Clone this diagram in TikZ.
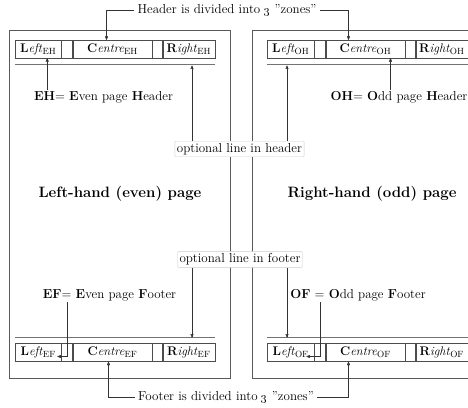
\documentclass[tikz,border=0pt]{standalone}
\usepackage{tikz}
\usetikzlibrary{
  arrows,
  positioning
}

\begin{document}
\begin{tikzpicture}[x=1pt,y=-1pt,
      zone/.style={
         rectangle,
         draw=black!70,
         inner sep=0pt,
         minimum height=18pt,
         font=\fontsize{12.5}{14}\selectfont
      },
      pageframe/.style={draw=black!65},
      optline/.style={draw=black!55, line width=1.3pt},
      note/.style={font=\fontsize{13}{15}\selectfont, inner sep=1pt},
      optbox/.style={
         rectangle,
         draw=black!20,
         rounded corners=1pt,
         fill=white,
         inner sep=2pt,
         font=\fontsize{13}{15}\selectfont
      },
      pagetitle/.style={font=\fontsize{15}{17}\selectfont\bfseries},
      >=stealth',tip/.style={->,draw=black!80},
      point/.style={coordinate}
    ]
    \useasboundingbox (0,0) rectangle (468,407);

    % the two pages
    \node (evenpage) [pageframe, rectangle, inner sep=0pt, minimum width=221pt,
       minimum height=348pt, anchor=north west] at (9,30) {};
    \draw[pageframe] (468,30) -| (252,378) -- (468,378);

    % header zones, even page
    \node (lehL) [zone, minimum width=46pt, anchor=west] at (15,49) {\textbf{L}\textit{eft}$_{\mathrm{EH}}$};
    \node (lehG) [zone, minimum width=11pt, right=0pt of lehL] {};
    \node (lehC) [zone, minimum width=79pt, right=0pt of lehG] {\textbf{C}\textit{entre}$_{\mathrm{EH}}$};
    \node (lehH) [zone, minimum width=10pt, right=0pt of lehC] {};
    \node (lehR) [zone, minimum width=52pt, right=0pt of lehH] {\textbf{R}\textit{ight}$_{\mathrm{EH}}$};
    % header zones, odd page
    \node (ohL) [zone, minimum width=47pt, anchor=west] at (267,49) {\textbf{L}\textit{eft}$_{\mathrm{OH}}$};
    \node (ohG) [zone, minimum width=11pt, right=0pt of ohL] {};
    \node (ohC) [zone, minimum width=79pt, right=0pt of ohG] {\textbf{C}\textit{entre}$_{\mathrm{OH}}$};
    \node (ohH) [zone, minimum width=10pt, right=0pt of ohC] {};
    \node (ohR) [zone, minimum width=52pt, right=0pt of ohH] {\textbf{R}\textit{ight}$_{\mathrm{OH}}$};
    % footer zones, even page
    \node (lefL) [zone, minimum width=46pt, anchor=west] at (15,352.5) {\textbf{L}\textit{eft}$_{\mathrm{EF}}$};
    \node (lefG) [zone, minimum width=11pt, right=0pt of lefL] {};
    \node (lefC) [zone, minimum width=79pt, right=0pt of lefG] {\textbf{C}\textit{entre}$_{\mathrm{EF}}$};
    \node (lefH) [zone, minimum width=10pt, right=0pt of lefC] {};
    \node (lefR) [zone, minimum width=52pt, right=0pt of lefH] {\textbf{R}\textit{ight}$_{\mathrm{EF}}$};
    % footer zones, odd page
    \node (ofL) [zone, minimum width=47pt, anchor=west] at (267,352.5) {\textbf{L}\textit{eft}$_{\mathrm{OF}}$};
    \node (ofG) [zone, minimum width=11pt, right=0pt of ofL] {};
    \node (ofC) [zone, minimum width=79pt, right=0pt of ofG] {\textbf{C}\textit{entre}$_{\mathrm{OF}}$};
    \node (ofH) [zone, minimum width=10pt, right=0pt of ofC] {};
    \node (ofR) [zone, minimum width=52pt, right=0pt of ofH] {\textbf{R}\textit{ight}$_{\mathrm{OF}}$};

    % optional lines
    \draw[optline] ([yshift=-6pt]lehL.south west) -- ([yshift=-6pt]lehR.south east);
    \draw[optline] ([yshift=-6pt]ohL.south west) -- ([yshift=-6pt]ohR.south east);
    \draw[optline] ([yshift=6pt]lefL.north west) -- ([yshift=6pt]lefR.north east);
    \draw[optline] ([yshift=6pt]ofL.north west) -- ([yshift=6pt]ofR.north east);
    \node (ehmark) [point] at (192,65.5) {};
    \node (ohmark) [point] at (287,65.5) {};
    \node (efmark) [point] at (192,337.5) {};
    \node (ofmark) [point] at (287,337.5) {};

    % texts
    \node (hdr) [note, inner sep=3pt] at (227,10) {Header is divided into \oldstylenums{3} "zones"};
    \node (ftr) [note, inner sep=3pt] at (226,397) {Footer is divided into \oldstylenums{3} "zones"};
    \node (ehnote) [note] at (103.5,97) {\textbf{EH}= \textbf{E}ven page \textbf{H}eader};
    \node (ohnote) [note] at (399,97) {\textbf{OH}= \textbf{O}dd page \textbf{H}eader};
    \node (efnote) [note] at (109.5,295) {\textbf{EF}= \textbf{E}ven page \textbf{F}ooter};
    \node (ofnote) [note] at (358,295) {\textbf{OF} = \textbf{O}dd page \textbf{F}ooter};
    \node (eventitle) [pagetitle] at (120,194) {Left-hand (even) page};
    \node (oddtitle) [pagetitle] at (372,194) {Right-hand (odd) page};
    \node (opth) [optbox] at (239.5,149) {optional line in header};
    \node (optf) [optbox] at (240,259.5) {optional line in footer};

    % connectors
    \draw[tip] (hdr.west) -| ([xshift=-6pt]lehC.north);
    \draw[tip] (hdr.east) -| ([xshift=-17pt]ohC.north);
    \draw[tip] (ftr.west) -| ([xshift=-4pt]lefC.south);
    \draw[tip] (ftr.east) -| ([xshift=-17pt]ofC.south);
    \draw[tip] ([xshift=9pt]lehL.south |- ehnote.north) -- ([xshift=9pt]lehL.south);
    \draw[tip] ([xshift=25pt]ohC.south |- ohnote.north) -- ([xshift=25pt]ohC.south);
    \draw[tip] (efnote.south -| lefG.center) |- ([shift={(-4pt,-4pt)}]lefL.east);
    \draw[tip] (ofnote.south -| ofG.center) |- ([shift={(-8pt,-4pt)}]ofL.east);
    \draw[tip] (opth.north -| ehmark) -- (ehmark);
    \draw[tip] (opth.north -| ohmark) -- (ohmark);
    \draw[tip] (optf.south -| efmark) -- (efmark);
    \draw[tip] (optf.south -| ofmark) -- (ofmark);
\end{tikzpicture}
\end{document}
